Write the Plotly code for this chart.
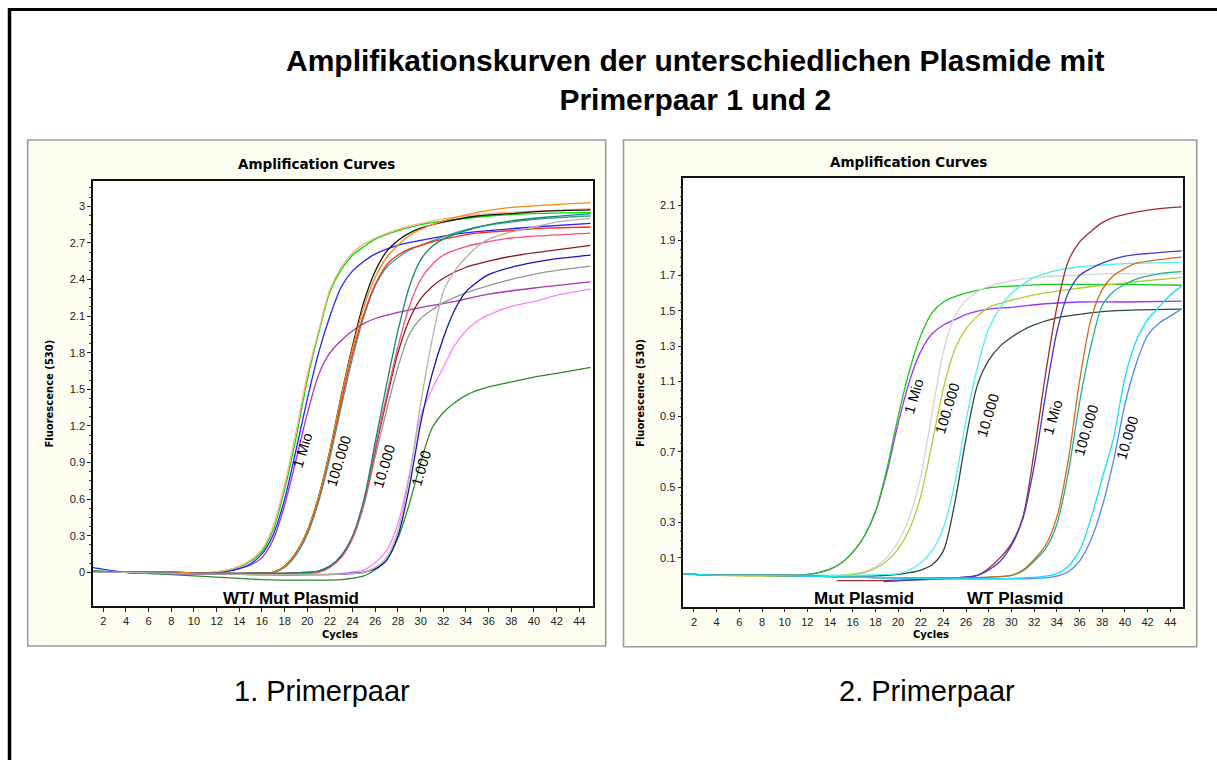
import plotly.graph_objects as go

W, H = 1217, 760

# ---------------- Primer pair 1 (WT / Mut plasmid dilutions) ----------------
# 1 Mio copies
CYC_L_1MIO = [1, 4, 8, 11, 13, 14, 15, 16, 17, 18, 19, 20, 21, 22, 23, 24, 25, 26, 28, 30, 33, 36, 40, 45]
L_1MIO_PEACH = [0.01, 0.0, -0.005, -0.005, 0.02, 0.05, 0.10, 0.19, 0.38, 0.72, 1.15, 1.62, 1.98, 2.32, 2.50, 2.62, 2.69, 2.74, 2.81, 2.86, 2.91, 2.94, 2.96, 2.98]
L_1MIO_GREEN = [0.01, 0.0, -0.005, -0.005, 0.02, 0.045, 0.09, 0.17, 0.35, 0.68, 1.10, 1.58, 1.96, 2.30, 2.48, 2.60, 2.67, 2.73, 2.80, 2.85, 2.89, 2.92, 2.94, 2.95]
L_1MIO_BLUE = [0.04, 0.0, -0.01, -0.01, 0.01, 0.03, 0.07, 0.15, 0.31, 0.60, 1.00, 1.42, 1.80, 2.10, 2.34, 2.47, 2.55, 2.61, 2.68, 2.72, 2.77, 2.80, 2.83, 2.86]
L_1MIO_VIOLET = [0.0, 0.0, -0.005, -0.01, 0.01, 0.03, 0.06, 0.12, 0.27, 0.55, 0.92, 1.30, 1.62, 1.80, 1.90, 1.98, 2.04, 2.08, 2.13, 2.17, 2.22, 2.28, 2.33, 2.38]

# 100.000 copies
CYC_L_100K = [1, 4, 8, 12, 15, 17, 18, 19, 20, 21, 22, 23, 24, 25, 26, 27, 28, 29, 30, 32, 35, 38, 41, 45]
L_100K_BLACK = [0.0, 0.0, 0.0, -0.01, -0.01, 0.0, 0.05, 0.16, 0.34, 0.62, 1.00, 1.45, 1.86, 2.22, 2.47, 2.63, 2.72, 2.78, 2.82, 2.87, 2.92, 2.94, 2.96, 2.97]
L_100K_ORANGE = [0.0, 0.0, 0.0, -0.01, -0.01, 0.0, 0.05, 0.16, 0.34, 0.62, 1.00, 1.44, 1.84, 2.18, 2.42, 2.58, 2.68, 2.76, 2.81, 2.88, 2.95, 2.99, 3.01, 3.03]
L_100K_TEAL = [0.01, 0.0, -0.005, -0.01, -0.01, 0.0, 0.04, 0.14, 0.31, 0.58, 0.94, 1.36, 1.76, 2.10, 2.35, 2.50, 2.58, 2.64, 2.68, 2.75, 2.83, 2.87, 2.90, 2.92]
L_100K_RED = [0.0, 0.0, 0.0, -0.01, -0.01, 0.0, 0.05, 0.16, 0.33, 0.61, 0.98, 1.40, 1.80, 2.12, 2.36, 2.52, 2.60, 2.65, 2.68, 2.73, 2.78, 2.80, 2.82, 2.83]

# 10.000 copies
CYC_L_10K = [1, 4, 8, 12, 16, 19, 21, 22, 23, 24, 25, 26, 27, 28, 29, 30, 31, 32, 34, 36, 38, 41, 45]
L_10K_SEAGREEN = [0.01, 0.0, -0.01, -0.01, -0.01, -0.005, 0.01, 0.05, 0.14, 0.30, 0.60, 1.07, 1.54, 1.98, 2.34, 2.56, 2.67, 2.73, 2.80, 2.85, 2.88, 2.91, 2.94]
L_10K_PINK = [0.0, 0.0, -0.01, -0.01, -0.015, -0.01, 0.0, 0.04, 0.12, 0.28, 0.57, 1.02, 1.45, 1.85, 2.18, 2.40, 2.52, 2.60, 2.67, 2.71, 2.74, 2.76, 2.78]
L_10K_MAROON = [0.0, 0.0, -0.01, -0.01, -0.01, -0.005, 0.01, 0.05, 0.13, 0.29, 0.58, 1.00, 1.42, 1.80, 2.07, 2.24, 2.34, 2.41, 2.50, 2.55, 2.59, 2.63, 2.68]
L_10K_GRAY = [0.0, 0.0, -0.01, -0.01, -0.01, -0.005, 0.01, 0.05, 0.13, 0.28, 0.55, 0.95, 1.33, 1.68, 1.95, 2.08, 2.15, 2.21, 2.29, 2.35, 2.40, 2.46, 2.51]

# 1.000 copies
CYC_L_1K = [1, 4, 8, 12, 16, 20, 23, 25, 26, 27, 28, 29, 30, 31, 32, 33, 34, 35, 36, 38, 40, 42, 45]
L_1K_SILVER = [0.0, 0.0, -0.01, -0.015, -0.02, -0.02, -0.015, 0.0, 0.04, 0.12, 0.34, 0.78, 1.38, 1.90, 2.30, 2.47, 2.58, 2.67, 2.73, 2.79, 2.83, 2.87, 2.90]
L_1K_NAVY = [0.0, 0.0, -0.01, -0.015, -0.02, -0.02, -0.015, 0.0, 0.03, 0.10, 0.30, 0.70, 1.22, 1.62, 1.92, 2.15, 2.30, 2.38, 2.44, 2.50, 2.54, 2.57, 2.60]
L_1K_LIGHTPINK = [0.0, 0.0, -0.01, -0.015, -0.02, -0.02, -0.01, 0.02, 0.08, 0.18, 0.40, 0.80, 1.28, 1.50, 1.68, 1.86, 1.98, 2.06, 2.11, 2.18, 2.22, 2.27, 2.32]
L_1K_FOREST = [0.01, 0.0, -0.02, -0.04, -0.06, -0.065, -0.06, -0.03, 0.02, 0.10, 0.28, 0.56, 0.90, 1.18, 1.31, 1.39, 1.45, 1.49, 1.52, 1.56, 1.60, 1.63, 1.68]

# ---------------- Primer pair 2 (Mut plasmid) ----------------
CYC_R_MUT_1MIO = [1, 4, 8, 11, 12, 13, 14, 15, 16, 17, 18, 19, 20, 21, 22, 23, 24, 25, 26, 28, 30, 33, 36, 40, 45]
R_MUT_1MIO_GREEN = [0.01, 0.0, 0.0, 0.0, 0.005, 0.015, 0.035, 0.07, 0.13, 0.22, 0.36, 0.60, 0.90, 1.16, 1.36, 1.49, 1.55, 1.58, 1.60, 1.63, 1.64, 1.65, 1.65, 1.65, 1.645]
R_MUT_1MIO_VIOLET = [0.01, 0.0, 0.0, 0.0, 0.005, 0.015, 0.035, 0.07, 0.13, 0.22, 0.36, 0.58, 0.86, 1.10, 1.27, 1.37, 1.42, 1.45, 1.48, 1.51, 1.52, 1.54, 1.55, 1.55, 1.555]

CYC_R_MUT_100K = [1, 4, 8, 12, 15, 17, 18, 19, 20, 21, 22, 23, 24, 25, 26, 27, 28, 30, 32, 35, 38, 41, 45]
R_MUT_100K_SILVER = [0.01, 0.0, 0.0, 0.0, 0.0, 0.02, 0.05, 0.10, 0.19, 0.33, 0.56, 0.92, 1.27, 1.47, 1.56, 1.61, 1.64, 1.67, 1.69, 1.70, 1.71, 1.71, 1.71]
R_MUT_100K_YELLOWGREEN = [0.01, 0.0, -0.005, -0.005, 0.0, 0.015, 0.04, 0.08, 0.15, 0.26, 0.45, 0.75, 1.06, 1.28, 1.40, 1.47, 1.52, 1.56, 1.59, 1.62, 1.645, 1.665, 1.69]

CYC_R_MUT_10K = [1, 4, 8, 12, 16, 19, 20, 21, 22, 23, 24, 25, 26, 27, 28, 29, 30, 31, 32, 34, 36, 38, 41, 45]
R_MUT_10K_CYAN = [0.01, 0.0, 0.0, 0.0, 0.0, 0.005, 0.01, 0.03, 0.07, 0.14, 0.27, 0.52, 0.88, 1.18, 1.40, 1.52, 1.60, 1.65, 1.69, 1.73, 1.75, 1.76, 1.77, 1.775]
R_MUT_10K_SLATE = [0.01, 0.0, 0.0, 0.0, -0.005, 0.0, 0.005, 0.015, 0.03, 0.06, 0.14, 0.41, 0.78, 1.08, 1.22, 1.30, 1.35, 1.39, 1.42, 1.46, 1.48, 1.495, 1.505, 1.51]

# ---------------- Primer pair 2 (WT plasmid) ----------------
CYC_R_WT_1MIO_RED = [14.6, 18, 22, 25, 27, 28, 29, 30, 31, 32, 33, 34, 35, 36, 37, 38, 39, 41, 43, 45]
R_WT_1MIO_RED = [-0.03, -0.03, -0.025, -0.015, 0.0, 0.04, 0.10, 0.18, 0.33, 0.70, 1.14, 1.52, 1.78, 1.89, 1.95, 2.00, 2.03, 2.06, 2.08, 2.09]
CYC_R_WT_1MIO_BLUE = [18.7, 22, 25, 27, 28, 29, 30, 31, 32, 33, 34, 35, 36, 37, 38, 40, 42, 45]
R_WT_1MIO_BLUE = [-0.035, -0.025, -0.015, 0.0, 0.03, 0.08, 0.17, 0.32, 0.62, 1.02, 1.38, 1.60, 1.70, 1.74, 1.77, 1.81, 1.825, 1.84]

CYC_R_WT_100K = [1, 4, 8, 12, 16, 20, 24, 28, 30, 31, 32, 33, 34, 35, 36, 37, 38, 39, 40, 41, 43, 45]
R_WT_100K_BROWN = [0.01, 0.0, 0.0, -0.005, -0.01, -0.015, -0.015, -0.01, 0.0, 0.03, 0.09, 0.17, 0.33, 0.65, 1.10, 1.45, 1.62, 1.70, 1.74, 1.77, 1.79, 1.805]
R_WT_100K_TEAL = [0.01, 0.0, 0.0, -0.005, -0.01, -0.015, -0.015, -0.01, 0.0, 0.025, 0.08, 0.15, 0.29, 0.58, 0.98, 1.30, 1.53, 1.61, 1.65, 1.68, 1.71, 1.722]

CYC_R_WT_10K = [1, 4, 8, 12, 16, 20, 24, 28, 31, 33, 34, 35, 36, 37, 38, 39, 40, 41, 42, 43, 44, 45]
R_WT_10K_CYAN = [0.01, 0.0, 0.0, -0.005, -0.01, -0.015, -0.02, -0.02, -0.015, -0.005, 0.01, 0.05, 0.14, 0.32, 0.55, 0.78, 1.12, 1.33, 1.45, 1.52, 1.59, 1.64]
R_WT_10K_CORNFLOWER = [0.01, 0.0, 0.0, -0.005, -0.01, -0.015, -0.02, -0.02, -0.02, -0.015, -0.005, 0.02, 0.08, 0.20, 0.39, 0.65, 0.97, 1.20, 1.36, 1.43, 1.47, 1.51]

# Axis ticks
X_TICKS = list(range(2, 46, 2))
Y1_TICKS = [0, 0.3, 0.6, 0.9, 1.2, 1.5, 1.8, 2.1, 2.4, 2.7, 3.0]
Y1_LABELS = ["0", "0.3", "0.6", "0.9", "1.2", "1.5", "1.8", "2.1", "2.4", "2.7", "3"]
Y2_TICKS = [0.1, 0.3, 0.5, 0.7, 0.9, 1.1, 1.3, 1.5, 1.7, 1.9, 2.1]
Y2_LABELS = ["0.1", "0.3", "0.5", "0.7", "0.9", "1.1", "1.3", "1.5", "1.7", "1.9", "2.1"]

left_curves = [
    (CYC_L_1MIO, L_1MIO_VIOLET, "#a535b5"),
    (CYC_L_1MIO, L_1MIO_BLUE, "#2424ff"),
    (CYC_L_1MIO, L_1MIO_GREEN, "#00e000"),
    (CYC_L_1MIO, L_1MIO_PEACH, "#ffb08a"),
    (CYC_L_100K, L_100K_TEAL, "#3a9c9c"),
    (CYC_L_100K, L_100K_RED, "#ff2a1a"),
    (CYC_L_100K, L_100K_BLACK, "#151515"),
    (CYC_L_100K, L_100K_ORANGE, "#f08a10"),
    (CYC_L_10K, L_10K_GRAY, "#969696"),
    (CYC_L_10K, L_10K_MAROON, "#8b1c1c"),
    (CYC_L_10K, L_10K_PINK, "#ff4d7a"),
    (CYC_L_10K, L_10K_SEAGREEN, "#14896c"),
    (CYC_L_1K, L_1K_FOREST, "#2e8b2e"),
    (CYC_L_1K, L_1K_LIGHTPINK, "#ff80ff"),
    (CYC_L_1K, L_1K_NAVY, "#1414b4"),
    (CYC_L_1K, L_1K_SILVER, "#b4b4a6"),
]

right_curves = [
    (CYC_R_MUT_1MIO, R_MUT_1MIO_VIOLET, "#9a33ff"),
    (CYC_R_MUT_1MIO, R_MUT_1MIO_GREEN, "#1ec81e"),
    (CYC_R_MUT_100K, R_MUT_100K_SILVER, "#d4d4d4"),
    (CYC_R_MUT_100K, R_MUT_100K_YELLOWGREEN, "#a6cf3a"),
    (CYC_R_MUT_10K, R_MUT_10K_SLATE, "#2c4a3c"),
    (CYC_R_MUT_10K, R_MUT_10K_CYAN, "#4ff0f0"),
    (CYC_R_WT_1MIO_RED, R_WT_1MIO_RED, "#a32a2e"),
    (CYC_R_WT_1MIO_BLUE, R_WT_1MIO_BLUE, "#3f3cc8"),
    (CYC_R_WT_100K, R_WT_100K_TEAL, "#22b08e"),
    (CYC_R_WT_100K, R_WT_100K_BROWN, "#d2691e"),
    (CYC_R_WT_10K, R_WT_10K_CORNFLOWER, "#4f86f7"),
    (CYC_R_WT_10K, R_WT_10K_CYAN, "#12e2f0"),
]


def fx(x):
    return x / W


def fy(y):
    return 1 - y / H


fig = go.Figure()

for cyc, vals, col in left_curves:
    fig.add_trace(go.Scatter(x=cyc, y=vals, mode="lines", xaxis="x", yaxis="y",
                             line=dict(color=col, width=1.3, shape="spline", smoothing=0.8),
                             hoverinfo="skip"))
for cyc, vals, col in right_curves:
    fig.add_trace(go.Scatter(x=cyc, y=vals, mode="lines", xaxis="x2", yaxis="y2",
                             line=dict(color=col, width=1.3, shape="spline", smoothing=0.8),
                             hoverinfo="skip"))

tickfont = dict(family="Liberation Sans, Arial, sans-serif", size=11, color="#222")

x_common = dict(tickmode="array", tickvals=X_TICKS, ticks="outside", ticklen=4,
                tickcolor="#222", tickfont=tickfont, showgrid=False, zeroline=False,
                showline=True, mirror=True, linecolor="#111", linewidth=1.5)
y_common = dict(tickmode="array", ticks="outside", ticklen=4, tickcolor="#222",
                tickfont=tickfont, showgrid=False, zeroline=False,
                showline=True, mirror=True, linecolor="#111", linewidth=1.5)

y1_minor = [round(0.075 * k, 3) for k in range(0, 43) if k % 4]
y2_minor = [round(0.1 + 0.05 * k, 3) for k in range(0, 43) if k % 4]

fig.update_layout(
    width=W, height=H, autosize=False,
    margin=dict(l=0, r=0, t=0, b=0),
    paper_bgcolor="white", plot_bgcolor="rgba(0,0,0,0)",
    showlegend=False,
    xaxis=dict(domain=[fx(93), fx(592.7)], range=[1.09, 45.18], anchor="y", **x_common),
    yaxis=dict(domain=[fy(606.3), fy(181)], range=[-0.279, 3.207], anchor="x",
               tickvals=Y1_TICKS, ticktext=Y1_LABELS,
               minor=dict(tickmode="array", tickvals=y1_minor, ticks="outside",
                          ticklen=2, tickcolor="#444"),
               **y_common),
    xaxis2=dict(domain=[fx(683.3), fx(1183.3)], range=[1.06, 45.15], anchor="y2", **x_common),
    yaxis2=dict(domain=[fy(606.7), fy(177.7)], range=[-0.178, 2.255], anchor="x2",
                tickvals=Y2_TICKS, ticktext=Y2_LABELS,
                minor=dict(tickmode="array", tickvals=y2_minor, ticks="outside",
                           ticklen=2, tickcolor="#444"),
                **y_common),
)

shapes = []
# cream panels with grey frame, white plotting areas
for (x0, y0, x1, y1) in [(27.7, 140, 605.7, 646), (623.5, 140, 1196.7, 646.7)]:
    shapes.append(dict(type="rect", xref="paper", yref="paper", layer="below",
                       x0=fx(x0), x1=fx(x1), y0=fy(y1), y1=fy(y0),
                       fillcolor="#fdfdf1", line=dict(color="#9c9c9c", width=1.6)))
for (x0, y0, x1, y1) in [(93, 181, 592.7, 606.3), (683.3, 177.7, 1183.3, 606.7)]:
    shapes.append(dict(type="rect", xref="paper", yref="paper", layer="below",
                       x0=fx(x0), x1=fx(x1), y0=fy(y1), y1=fy(y0),
                       fillcolor="white", line=dict(width=0)))
# outer black frame (left and top edges)
shapes.append(dict(type="line", xref="paper", yref="paper", x0=fx(9.5), x1=fx(9.5),
                   y0=fy(8), y1=fy(760), line=dict(color="black", width=3.5)))
shapes.append(dict(type="line", xref="paper", yref="paper", x0=fx(8), x1=fx(1217),
                   y0=fy(9.5), y1=fy(9.5), line=dict(color="black", width=3)))
fig.update_layout(shapes=shapes)

ann = []


def text(x, y, s, size, family="Liberation Sans, Arial, sans-serif", bold=False,
         angle=0, xanchor="center", yanchor="middle"):
    ann.append(dict(x=fx(x), y=fy(y), xref="paper", yref="paper", text=s,
                    showarrow=False, textangle=angle, xanchor=xanchor, yanchor=yanchor,
                    font=dict(family=family, size=size, color="black",
                              weight="bold" if bold else "normal")))


# main title
text(695.5, 80.5, "Amplifikationskurven der unterschiedlichen Plasmide mit<br>Primerpaar 1 und 2",
     30, bold=True)

heavy = "DejaVu Sans, Verdana, sans-serif"
# panel titles and axis titles
text(316.3, 163.6, "Amplification Curves", 13.5, family=heavy, bold=True)
text(908, 161.6, "Amplification Curves", 13.5, family=heavy, bold=True)
text(49.4, 393.2, "Fluorescence (530)", 10, family=heavy, bold=True, angle=-90)
text(640.3, 392.6, "Fluorescence (530)", 10, family=heavy, bold=True, angle=-90)
text(340, 634, "Cycles", 10, family=heavy, bold=True)
text(931.4, 634.6, "Cycles", 10, family=heavy, bold=True)

# plasmid labels
text(291, 598, "WT/ Mut Plasmid", 17, bold=True)
text(864, 598, "Mut Plasmid", 17, bold=True)
text(1015, 598, "WT Plasmid", 17, bold=True)

# captions
text(321.7, 691, "1. Primerpaar", 29)
text(927, 691, "2. Primerpaar", 29)


# dilution labels along the curves (data coordinates)
def curve_label(xr, yr, c, v, s):
    ann.append(dict(x=c, y=v, xref=xr, yref=yr, text=s, showarrow=False,
                    textangle=-73, xanchor="center", yanchor="middle",
                    font=dict(family="Liberation Sans, Arial, sans-serif", size=14.5,
                              color="black")))


curve_label("x", "y", 19.6, 1.0, "1 Mio")
curve_label("x", "y", 22.8, 0.91, "100.000")
curve_label("x", "y", 26.8, 0.87, "10.000")
curve_label("x", "y", 30.0, 0.85, "1.000")
curve_label("x2", "y2", 21.4, 1.017, "1 Mio")
curve_label("x2", "y2", 24.3, 0.946, "100.000")
curve_label("x2", "y2", 27.9, 0.905, "10.000")
curve_label("x2", "y2", 33.6, 0.895, "1 Mio")
curve_label("x2", "y2", 36.6, 0.824, "100.000")
curve_label("x2", "y2", 40.2, 0.78, "10.000")

fig.update_layout(annotations=ann)

# keep the page exactly the size of the figure (no scrollbars)
page_fit = ("document.documentElement.style.overflow='hidden';"
            "document.body.style.overflow='hidden';"
            "document.body.style.margin='0';")

fig.write_html("out.html", post_script=page_fit, config={"displayModeBar": False})
